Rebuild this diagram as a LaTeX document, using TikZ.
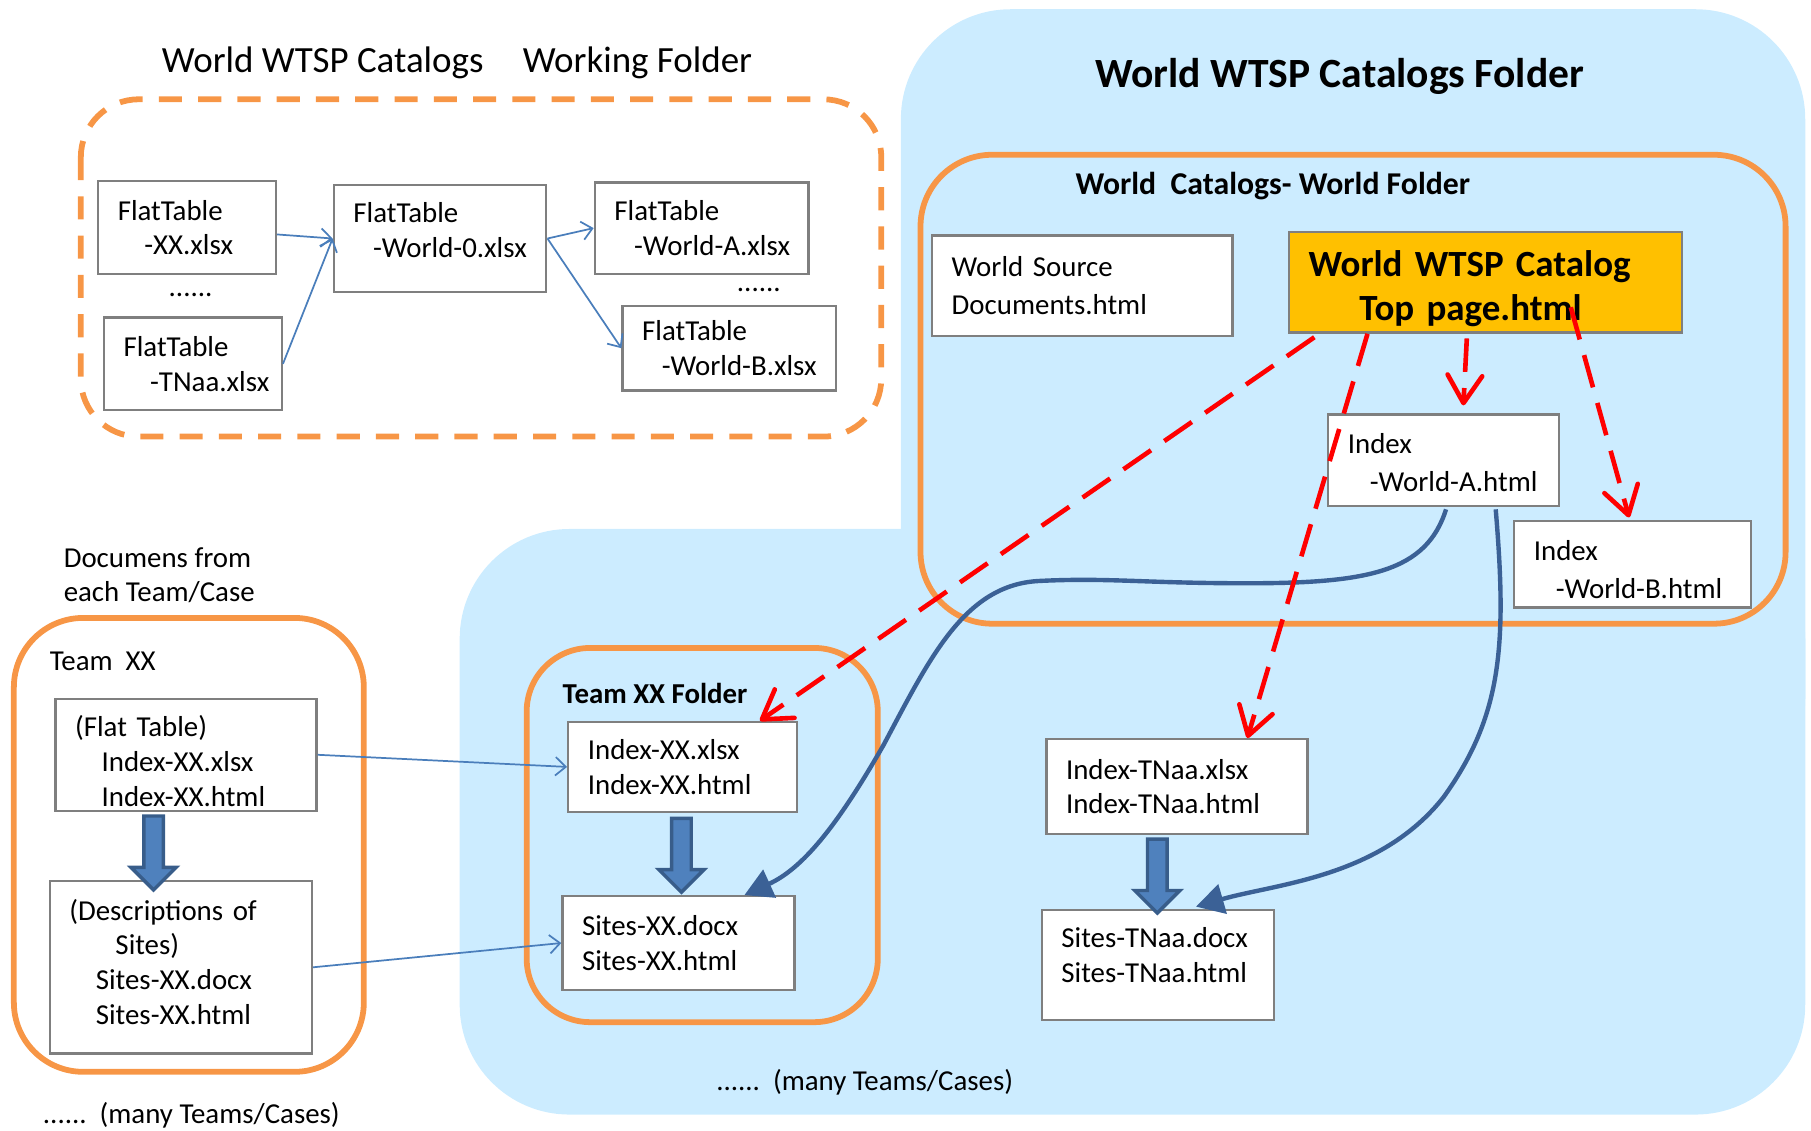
\documentclass[tikz,border=0pt]{standalone}
\usepackage{fontspec}
\setmainfont{Carlito}
\usepackage{xcolor}
\usepackage{tikz}
\usetikzlibrary{arrows.meta,calc,shapes.arrows}
\definecolor{skyfill}{HTML}{CCECFF}
\definecolor{folderline}{HTML}{F79646}
\definecolor{boxline}{HTML}{7F7F7F}
\definecolor{topfill}{HTML}{FFC000}
\definecolor{feedblue}{HTML}{4A7EBB}
\definecolor{routeblue}{HTML}{3B6196}
\definecolor{fatfill}{HTML}{4F81BD}
\definecolor{fatline}{HTML}{385D8A}
% struts to push a text block down / up inside its box
\newcommand{\padtop}[1]{\rule{0pt}{#1}}
\newcommand{\padbot}[1]{\rule[-#1]{0pt}{#1}}
\tikzset{
  filebox/.style={draw=boxline, line width=2pt, fill=white, align=left, inner xsep=17pt, inner ysep=0pt, font=\fontsize{25}{30}\selectfont, execute at begin node={\exhyphenpenalty=10000\hyphenpenalty=10000}},
  filewide/.style={filebox, font=\fontsize{25}{33}\selectfont},
  folder/.style={draw=folderline, line width=5pt, rounded corners=#1},
  folder/.default=55pt,
  caption/.style={anchor=west, inner sep=0pt, font=\fontsize{25}{30}\selectfont},
  feed/.style={draw=feedblue, line width=1.5pt, -{Straight Barb[length=9pt,width=16pt]}},
  link/.style={draw=red, line width=4pt, dash pattern=on 29pt off 14pt, -{Straight Barb[length=24pt,width=30pt,round]}},
  route/.style={draw=routeblue, line width=3.8pt, -{Triangle[length=24pt,width=26pt]}},
  fat/.style={single arrow, draw=fatline, fill=fatfill, line width=3pt, rotate=-90, anchor=tail, inner xsep=0pt, inner ysep=7pt, single arrow head extend=11pt, minimum height=64pt},
}
\begin{document}
\begin{tikzpicture}[x=1pt,y=-1pt]%
\useasboundingbox (0,0) rectangle (1568,979);%
% catalogs area
\fill[skyfill, rounded corners=95pt] (780,8) rectangle (1563,700);%
\fill[skyfill, rounded corners=95pt] (398,458) rectangle (1563,965);%
% working folder
\node[caption, font=\fontsize{32}{38}\selectfont] (worktitle) at (140,54) {World WTSP Catalogs\hspace{34pt}Working Folder};%
\draw[folder=50pt, dash pattern=on 20pt off 14pt] (70,86) rectangle (763,378);%
\node[filebox, text width=120pt, minimum height=80pt] (ftxx) at (162,197) {FlatTable\\\hspace*{23pt}-XX.xlsx};%
\node[font=\fontsize{25}{30}\selectfont] (dotsl) at (165,255) {......};%
\node[filebox, text width=120pt, minimum height=80pt] (fttn) at (167,315) {FlatTable\\\hspace*{23pt}-TNaa.xlsx};%
\node[filebox, text width=150pt, minimum height=93pt] (ftw0) at (381,206.5) {FlatTable\\\hspace*{17pt}-World-0.xlsx\padbot{15pt}};%
\node[filebox, text width=151pt, minimum height=79pt] (ftwa) at (607.5,197.5) {FlatTable\\\hspace*{17pt}-World-A.xlsx};%
\node[font=\fontsize{25}{30}\selectfont] (dotsr) at (657,251) {......};%
\node[filebox, text width=151pt, minimum height=73pt] (ftwb) at (631.5,301.5) {FlatTable\\\hspace*{17pt}-World-B.xlsx};%
% catalogs folder
\node[font=\bfseries\fontsize{36}{42}\selectfont, inner sep=0pt] (cattitle) at (1160,66) {World WTSP Catalogs Folder};%
\draw[folder=62pt] (797,134) rectangle (1546,540);%
\node[caption, font=\bfseries\fontsize{27.5}{33}\selectfont] (worldlbl) at (931,161) {World\ \ Catalogs- World Folder};%
\node[filewide, text width=226pt, minimum height=87pt] (wsrc) at (937,247.5) {World Source\\Documents.html};%
\node[filebox, fill=topfill, text width=306pt, minimum height=87pt, font=\bfseries\fontsize{32}{38}\selectfont] (top) at (1286,244.5) {\padtop{34pt}World WTSP Catalog\\\hspace*{44pt}Top page.html};%
\node[filewide, text width=166pt, minimum height=79pt] (wa) at (1250,398.5) {\padtop{22pt}Index\\\hspace*{19pt}-World-A.html};%
\node[filewide, text width=171pt, minimum height=75pt] (wb) at (1413.5,488.5) {\padtop{26pt}Index\\\hspace*{19pt}-World-B.html};%
% team folder
\draw[folder] (456,561) rectangle (760,885);%
\node[caption, font=\bfseries\fontsize{25}{30}\selectfont] (teamlbl) at (487,600) {Team XX Folder};%
\node[filebox, text width=164pt, minimum height=78pt] (ixx) at (591,664) {Index-XX.xlsx\\Index-XX.html};%
\node[filebox, text width=167pt, minimum height=81pt] (sxx) at (587.5,816.5) {Sites-XX.docx\\Sites-XX.html};%
\node[filebox, text width=192pt, minimum height=82pt] (itn) at (1019,681) {Index-TNaa.xlsx\\Index-TNaa.html};%
\node[filebox, text width=167pt, minimum height=95pt] (stn) at (1002.5,835.5) {Sites-TNaa.docx\\Sites-TNaa.html\padbot{17pt}};%
\node[caption] (manyr) at (620,937) {......\ \ (many Teams/Cases)};%
% team documents
\node[caption, align=left] (doclbl) at (55,498) {Documens from\\each Team/Case};%
\draw[folder=60pt] (12,535) rectangle (315,928);%
\node[caption] (teamxx) at (43,573) {Team\ \ XX};%
\node[filebox, text width=192pt, minimum height=97pt] (flat) at (161,653.5) {\padtop{29pt}(Flat Table)\\\hspace*{23pt}Index-XX.xlsx\\\hspace*{23pt}Index-XX.html};%
\node[filebox, text width=193pt, minimum height=149pt] (desc) at (156.5,837.5) {(Descriptions of\\\hspace*{40pt}Sites)\\\hspace*{23pt}Sites-XX.docx\\\hspace*{23pt}Sites-XX.html\padbot{10pt}};%
\node[caption] (manyl) at (37,966) {......\ \ (many Teams/Cases)};%
% thin arrows
\draw[feed] ($(ftxx.east)+(0,6)$) -- (ftw0.west);%
\draw[feed] (fttn.east) -- (ftw0.west);%
\draw[feed] (ftw0.east) -- (ftwa.west);%
\draw[feed] (ftw0.east) -- (ftwb.west);%
\draw[feed] (flat.east) -- (ixx.west);%
\draw[feed] (desc.east) -- (sxx.west);%
% fat arrows
\node[fat] (fat1) at ($(flat.south)+(-28,2)$) {};%
\node[fat] (fat2) at ($(ixx.south)+(-1,3)$) {};%
\node[fat] (fat3) at ($(itn.south)+(-17,2)$) {};%
% curves
\draw[route] ($(wa.south)+(2,2)$) .. controls (1235,495) and (1185,505) .. (1080,505) .. controls (990,505) and (960,500) .. (900,503) .. controls (835,506) and (805,570) .. (765,645) .. controls (725,715) and (695,752) .. ($(sxx.north)+(57,0)$);%
\draw[route] ($(wa.south)+(45,2)$) .. controls (1305,560) and (1300,620) .. (1250,690) .. controls (1195,760) and (1105,765) .. ($(stn.north)+(33,-2)$);%
% dashed links
\draw[link] ($(top.south west)+(23,3)$) -- ($(ixx.north east)+(-33,0)$);%
\draw[link] ($(top.south)+(-102,0)$) -- ($(itn.north)+(61,0)$);%
\draw[link] ($(top.south)+(-16,4)$) -- ($(wa.north)+(17,-7)$);%
\draw[link] ($(top.south)+(74,-23)$) -- ($(wb.north)+(-3,-2)$);%
\end{tikzpicture}
\end{document}
